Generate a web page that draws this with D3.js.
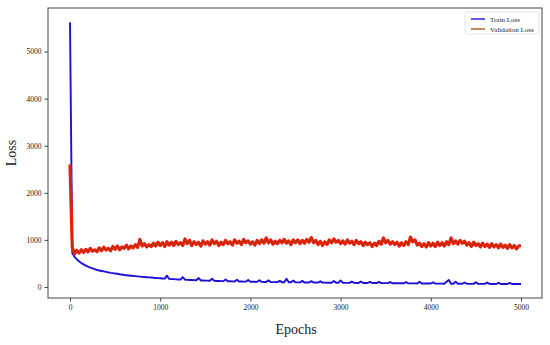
<!DOCTYPE html>
<html>
<head>
<meta charset="utf-8">
<script src="https://cdn.jsdelivr.net/npm/d3@7"></script>
<style>
  body { margin:0; background:#fff; }
  svg text { font-family:"Liberation Serif","DejaVu Serif",serif; fill:#222; }
  .axis path, .axis line { stroke:#444; }
</style>
</head>
<body>
<div id="chart"></div>
<script>
// ====== données (un point tous les 25 epochs)
const EPOCH_STEP = 25;
const X_TICKS = [0, 1000, 2000, 3000, 4000, 5000];
const Y_TICKS = [0, 1000, 2000, 3000, 4000, 5000];
const SERIES_NAMES = ["Train Loss", "Validation Loss"];

const trainLoss = [
  5620, 720, 640, 590, 545, 510, 480, 455, 430, 410, 395, 380, 360, 350, 340, 330,
  320, 310, 300, 295, 285, 280, 270, 265, 255, 250, 245, 240, 235, 230, 225, 220,
  215, 212, 208, 204, 200, 196, 192, 188, 185, 180, 178, 240, 172, 168, 166, 162,
  160, 158, 210, 154, 150, 148, 147, 145, 142, 190, 139, 137, 135, 134, 132, 175,
  130, 128, 127, 125, 124, 160, 122, 121, 120, 118, 155, 117, 115, 114, 113, 150,
  112, 111, 110, 109, 145, 108, 107, 106, 140, 105, 104, 104, 103, 130, 102, 101,
  175, 100, 99, 135, 98, 98, 97, 130, 96, 96, 95, 125, 94, 94, 93, 120,
  92, 92, 91, 91, 90, 125, 90, 89, 140, 89, 88, 88, 87, 115, 87, 86,
  86, 115, 85, 85, 84, 110, 84, 83, 83, 110, 82, 82, 81, 81, 105, 80,
  80, 79, 79, 78, 78, 105, 77, 77, 76, 76, 75, 110, 75, 74, 74, 73,
  73, 100, 72, 72, 71, 71, 70, 110, 150, 70, 69, 110, 69, 68, 68, 95,
  68, 67, 67, 66, 100, 66, 66, 65, 65, 95, 65, 64, 64, 64, 90, 64,
  63, 63, 63, 88, 63, 62, 62, 62, 62
];

const valLoss = [
  2600, 850, 700, 780, 720, 790, 730, 800, 745, 820, 760, 790, 750, 830, 770, 845,
  785, 820, 770, 860, 800, 870, 790, 850, 820, 890, 810, 870, 830, 900, 840, 1010,
  870, 920, 850, 900, 860, 930, 870, 950, 880, 940, 860, 960, 890, 950, 880, 970,
  900, 940, 880, 1020, 920, 990, 880, 960, 900, 950, 870, 980, 910, 960, 890, 1000,
  920, 970, 880, 950, 900, 990, 920, 960, 890, 1000, 930, 970, 900, 1010, 940, 980,
  910, 960, 890, 990, 920, 1000, 930, 1040, 940, 1000, 910, 970, 920, 990, 940, 1010,
  930, 980, 900, 1000, 940, 1000, 920, 990, 930, 1010, 950, 1050, 940, 990, 900, 970,
  880, 960, 900, 1000, 940, 1020, 950, 990, 920, 980, 910, 1000, 930, 970, 900, 990,
  920, 960, 880, 950, 900, 940, 860, 930, 880, 970, 910, 1040, 940, 990, 910, 960,
  900, 950, 870, 940, 880, 960, 900, 1060, 960, 1000, 890, 930, 860, 920, 850, 940,
  870, 930, 860, 950, 880, 940, 870, 960, 900, 1040, 920, 980, 910, 990, 930, 970,
  890, 940, 860, 950, 880, 920, 850, 930, 860, 910, 840, 920, 850, 900, 830, 910,
  840, 890, 820, 900, 830, 880, 810, 870, 880
];

// ====== dimensions
const W = 550, H = 345, M = {t:8, r:8, b:47, l:48};

const svg = d3.select("#chart").append("svg")
  .attr("width", W).attr("height", H)
  .attr("viewBox", [0,0,W,H]);

// échelles : 0 → x=70, 5000 → x=521 ; 0 → y=287, 5000 → y=51.5
const x = d3.scaleLinear().domain([-244, 5233]).range([M.l, W - M.r]);
const y = d3.scaleLinear().domain([-234, 5925]).range([H - M.b, M.t]);

const toPts = arr => arr.map((v,i) => [i * EPOCH_STEP, v]);
const line = d3.line().x(d => x(d[0])).y(d => y(d[1]));

// courbes
svg.append("path").datum(toPts(trainLoss))
  .attr("d", line).attr("fill","none")
  .attr("stroke","#1a10d8").attr("stroke-width",1.9).attr("stroke-linejoin","round");

// validation : bande rouge épaisse + trait brun fin par-dessus
svg.append("path").datum(toPts(valLoss))
  .attr("d", line).attr("fill","none")
  .attr("stroke","#ee1a0a").attr("stroke-width",3.2).attr("stroke-linejoin","round");

svg.append("path").datum(toPts(valLoss))
  .attr("d", line).attr("fill","none")
  .attr("stroke","#8a4a10").attr("stroke-width",0.8).attr("stroke-opacity",0.8);

// axes
const fmt = d3.format("d");
svg.append("g").attr("class","axis")
  .attr("transform", `translate(0,${H - M.b})`)
  .call(d3.axisBottom(x).tickValues(X_TICKS).tickFormat(fmt).tickSizeOuter(0).tickSize(3.5).tickPadding(3))
  .call(g => g.select(".domain").remove())
  .call(g => g.attr("font-family", null))
  .selectAll("text").attr("font-size", 7.5);

svg.append("g").attr("class","axis")
  .attr("transform", `translate(${M.l},0)`)
  .call(d3.axisLeft(y).tickValues(Y_TICKS).tickFormat(fmt).tickSizeOuter(0).tickSize(3.5).tickPadding(3))
  .call(g => g.select(".domain").remove())
  .call(g => g.attr("font-family", null))
  .selectAll("text").attr("font-size", 7.5);

// cadre
svg.append("rect")
  .attr("x", M.l).attr("y", M.t)
  .attr("width", W - M.r - M.l).attr("height", H - M.b - M.t)
  .attr("fill","none").attr("stroke","#444").attr("stroke-width",1);

// titres d'axes
svg.append("text").attr("x", 296).attr("y", 334)
  .attr("text-anchor","middle").attr("font-size",14).text("Epochs");
svg.append("text")
  .attr("transform","translate(16,153) rotate(-90)")
  .attr("text-anchor","middle").attr("font-size",14).text("Loss");

// légende
const LEG_COLORS = ["#1a10d8", "#b0581e"];
const leg = svg.append("g").attr("transform","translate(465,12)");
leg.append("rect").attr("width",74).attr("height",22).attr("rx",2)
  .attr("fill","#fff").attr("stroke","#ddd").attr("stroke-width",0.8);
SERIES_NAMES.forEach((name,i) => {
  const yy = 7 + i * 10;
  leg.append("line").attr("x1",6).attr("x2",20).attr("y1",yy).attr("y2",yy)
    .attr("stroke", LEG_COLORS[i]).attr("stroke-width",1.4);
  leg.append("text").attr("x",25).attr("y",yy + 2.5)
    .attr("font-size",7).text(name);
});
</script>
</body>
</html>
